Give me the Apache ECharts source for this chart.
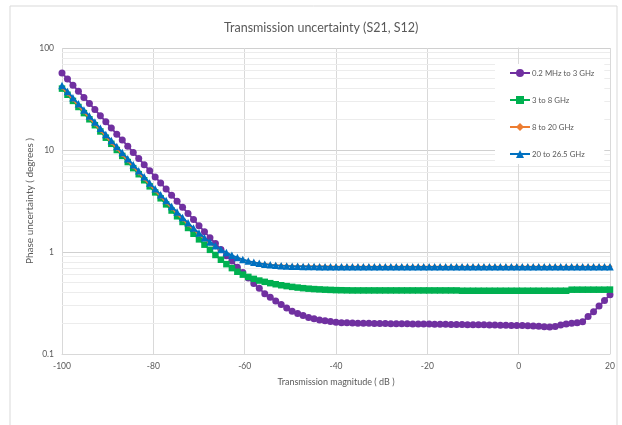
<!DOCTYPE html>
<html>
<head>
<meta charset="utf-8">
<script src="https://cdn.jsdelivr.net/npm/echarts@6/dist/echarts.min.js"></script>
<style>
html,body{margin:0;padding:0;background:#fff;}
#chart{width:622px;height:425px;}
</style>
</head>
<body>
<div id="chart"></div>
<script>
const chartTitle = 'Transmission uncertainty (S21, S12)';
const xAxisName = 'Transmission magnitude ( dB )';
const yAxisName = 'Phase uncertainty ( degrees )';
const seriesNames = ['0.2 MHz to 3 GHz', '3 to 8 GHz', '8 to 20 GHz', '20 to 26.5 GHz'];
const xTicks = [-100, -80, -60, -40, -20, 0, 20];
const yTicks = [0.1, 1, 10, 100];
const yMinorGrid = [0.2, 0.3, 0.4, 0.5, 0.6, 0.7, 0.8, 0.9, 2, 3, 4, 5, 6, 7, 8, 9, 20, 30, 40, 50, 60, 70, 80, 90];

const xValues = [
  -100, -98.8, -97.6, -96.4, -95.2, -94, -92.8, -91.6, -90.4, -89.2,
  -88, -86.8, -85.6, -84.4, -83.2, -82, -80.8, -79.6, -78.4, -77.2,
  -76, -74.8, -73.6, -72.4, -71.2, -70, -68.8, -67.6, -66.4, -65.2,
  -64, -62.8, -61.6, -60.4, -59.2, -58, -56.8, -55.6, -54.4, -53.2,
  -52, -50.8, -49.6, -48.4, -47.2, -46, -44.8, -43.6, -42.4, -41.2,
  -40, -38.8, -37.6, -36.4, -35.2, -34, -32.8, -31.6, -30.4, -29.2,
  -28, -26.8, -25.6, -24.4, -23.2, -22, -20.8, -19.6, -18.4, -17.2,
  -16, -14.8, -13.6, -12.4, -11.2, -10, -8.8, -7.6, -6.4, -5.2,
  -4, -2.8, -1.6, -0.4, 0.8, 2, 3.2, 4.4, 5.6, 6.8,
  8, 9.2, 10.4, 11.6, 12.8, 14, 15.2, 16.4, 17.6, 18.8,
  20
];

const purpleValues = [
  57.0, 49.6, 43.2, 37.7, 32.8, 28.6, 24.9, 21.7, 18.9, 16.4,
  14.3, 12.5, 10.9, 9.46, 8.24, 7.18, 6.25, 5.45, 4.75, 4.14,
  3.61, 3.14, 2.74, 2.39, 2.08, 1.81, 1.58, 1.38, 1.21, 1.06,
  0.92, 0.815, 0.71, 0.63, 0.557, 0.49, 0.44, 0.39, 0.36, 0.33,
  0.305, 0.283, 0.262, 0.25, 0.239, 0.228, 0.222, 0.216, 0.212, 0.208,
  0.205, 0.203, 0.202, 0.201, 0.2, 0.2, 0.2, 0.199, 0.199, 0.199,
  0.198, 0.198, 0.198, 0.198, 0.197, 0.197, 0.197, 0.197, 0.196, 0.196,
  0.196, 0.195, 0.195, 0.195, 0.194, 0.194, 0.193, 0.193, 0.192, 0.192,
  0.191, 0.191, 0.19, 0.19, 0.19, 0.189, 0.188, 0.187, 0.185, 0.184,
  0.186, 0.192, 0.197, 0.2, 0.203, 0.207, 0.233, 0.26, 0.295, 0.335,
  0.38
];

const greenValues = [
  40.0, 34.8, 30.3, 26.4, 23.0, 20.0, 17.5, 15.2, 13.2, 11.5,
  10.0, 8.75, 7.62, 6.64, 5.79, 5.05, 4.40, 3.84, 3.36, 2.93,
  2.55, 2.24, 1.97, 1.72, 1.51, 1.33, 1.18, 1.05, 0.935, 0.84,
  0.76, 0.695, 0.64, 0.60, 0.57, 0.545, 0.525, 0.51, 0.495, 0.483,
  0.472, 0.463, 0.455, 0.448, 0.442, 0.437, 0.433, 0.43, 0.427, 0.425,
  0.423, 0.422, 0.421, 0.42, 0.42, 0.42, 0.42, 0.42, 0.42, 0.42,
  0.42, 0.42, 0.42, 0.42, 0.42, 0.42, 0.42, 0.42, 0.42, 0.42,
  0.42, 0.42, 0.42, 0.417, 0.417, 0.417, 0.417, 0.417, 0.417, 0.417,
  0.417, 0.417, 0.417, 0.417, 0.417, 0.417, 0.417, 0.417, 0.417, 0.417,
  0.417, 0.417, 0.417, 0.427, 0.427, 0.427, 0.427, 0.427, 0.427, 0.427,
  0.428
];

const orangeValues = [
  41.0, 35.7, 31.1, 27.1, 23.6, 20.5, 17.9, 15.6, 13.6, 11.8,
  10.3, 9.0, 7.84, 6.85, 5.96, 5.21, 4.55, 3.99, 3.49, 3.06,
  2.69, 2.36, 2.09, 1.855, 1.655, 1.486, 1.34, 1.219, 1.119, 1.037,
  0.969, 0.916, 0.872, 0.837, 0.811, 0.79, 0.773, 0.761, 0.751, 0.744,
  0.738, 0.734, 0.73, 0.728, 0.726, 0.725, 0.724, 0.723, 0.722, 0.721,
  0.72, 0.72, 0.72, 0.72, 0.72, 0.72, 0.72, 0.72, 0.72, 0.72,
  0.72, 0.72, 0.72, 0.72, 0.72, 0.72, 0.72, 0.72, 0.72, 0.72,
  0.72, 0.72, 0.72, 0.72, 0.72, 0.72, 0.72, 0.72, 0.72, 0.72,
  0.72, 0.72, 0.72, 0.72, 0.72, 0.72, 0.72, 0.72, 0.72, 0.72,
  0.72, 0.72, 0.72, 0.72, 0.72, 0.72, 0.72, 0.72, 0.72, 0.72,
  0.72
];

const blueValues = [
  43.0, 37.5, 32.6, 28.4, 24.7, 21.6, 18.8, 16.3, 14.2, 12.4,
  10.82, 9.44, 8.22, 7.18, 6.25, 5.46, 4.76, 4.17, 3.65, 3.19,
  2.80, 2.47, 2.18, 1.93, 1.715, 1.536, 1.379, 1.254, 1.149, 1.06,
  0.987, 0.929, 0.881, 0.845, 0.815, 0.792, 0.774, 0.76, 0.749, 0.741,
  0.735, 0.73, 0.726, 0.724, 0.722, 0.72, 0.719, 0.718, 0.717, 0.716,
  0.715, 0.715, 0.715, 0.715, 0.715, 0.715, 0.715, 0.715, 0.715, 0.715,
  0.715, 0.715, 0.715, 0.715, 0.715, 0.715, 0.715, 0.715, 0.715, 0.715,
  0.715, 0.715, 0.715, 0.715, 0.715, 0.715, 0.715, 0.715, 0.715, 0.715,
  0.715, 0.715, 0.715, 0.715, 0.715, 0.715, 0.715, 0.715, 0.715, 0.715,
  0.715, 0.715, 0.715, 0.715, 0.715, 0.715, 0.715, 0.715, 0.715, 0.715,
  0.715
];

const seriesValues = [purpleValues, greenValues, orangeValues, blueValues];
const seriesColors = ['#7030A0', '#00B050', '#ED7D31', '#0070C0'];
const seriesSymbols = ['circle', 'rect', 'diamond', 'triangle'];
const seriesSymbolSizes = [7, 6.5, 5, 7.5];

const FONT = 'Lato, "Open Sans", sans-serif';
const TXT = '#595959';

const chart = echarts.init(document.getElementById('chart'), null, {renderer: 'canvas'});

const series = [{
  name: '_grid',
  type: 'line',
  data: [],
  z: 0,
  silent: true,
  markLine: {
    silent: true,
    symbol: 'none',
    animation: false,
    z: 0,
    zlevel: 0,
    label: {show: false},
    emphasis: {disabled: true},
    lineStyle: {color: '#ececec', width: 1, type: 'solid'},
    data: yMinorGrid.map(v => ({yAxis: v}))
  }
}];
seriesNames.forEach((name, i) => {
  series.push({
    name: name,
    type: 'line',
    z: 2 + i,
    data: xValues.map((x, j) => [x, seriesValues[i][j]]),
    symbol: seriesSymbols[i],
    symbolSize: seriesSymbolSizes[i],
    showSymbol: true,
    lineStyle: {color: seriesColors[i], width: 1.8},
    itemStyle: {color: seriesColors[i]},
    emphasis: {disabled: true}
  });
});

chart.setOption({
  animation: false,
  backgroundColor: '#fff',
  title: {
    text: chartTitle,
    left: 219,
    top: 16,
    textStyle: {color: TXT, fontSize: 12.5, fontWeight: 'normal', fontFamily: FONT}
  },
  graphic: [{
    type: 'rect',
    shape: {x: 10, y: 6, width: 607, height: 440},
    style: {fill: 'none', stroke: '#d9d9d9', lineWidth: 1},
    silent: true,
    z: -10
  }],
  legend: {
    data: seriesNames,
    orient: 'vertical',
    left: 495,
    top: 64,
    z: 10,
    itemWidth: 20,
    itemHeight: 10,
    itemGap: 19,
    padding: [5, 10, 6, 14],
    backgroundColor: '#ffffff',
    textStyle: {color: TXT, fontSize: 7.8, fontFamily: FONT, padding: [0, 0, 0, -3]}
  },
  grid: {left: 62, right: 12, top: 48, bottom: 71, containLabel: false},
  xAxis: {
    type: 'value',
    min: xTicks[0],
    max: xTicks[xTicks.length - 1],
    interval: 20,
    name: xAxisName,
    nameLocation: 'middle',
    nameGap: 24,
    nameTextStyle: {color: TXT, fontSize: 9, fontFamily: FONT},
    axisLine: {show: true, onZero: false, lineStyle: {color: '#d9d9d9'}},
    axisTick: {show: false},
    axisLabel: {color: TXT, fontSize: 8.5, fontFamily: FONT, margin: 8},
    splitLine: {show: true, lineStyle: {color: '#d9d9d9'}}
  },
  yAxis: {
    type: 'log',
    logBase: 10,
    min: yTicks[0],
    max: yTicks[yTicks.length - 1],
    name: yAxisName,
    nameLocation: 'middle',
    nameGap: 27,
    nameMoveOverlap: false,
    nameTextStyle: {color: TXT, fontSize: 10, fontFamily: FONT},
    axisLine: {show: true, lineStyle: {color: '#d9d9d9'}},
    axisTick: {show: false},
    axisLabel: {color: TXT, fontSize: 8.5, fontFamily: FONT, margin: 8,
      formatter: v => String(Math.round(v * 10) / 10)},
    splitLine: {show: true, lineStyle: {color: '#d0d0d0'}}
  },
  series: series
});
</script>
</body>
</html>
